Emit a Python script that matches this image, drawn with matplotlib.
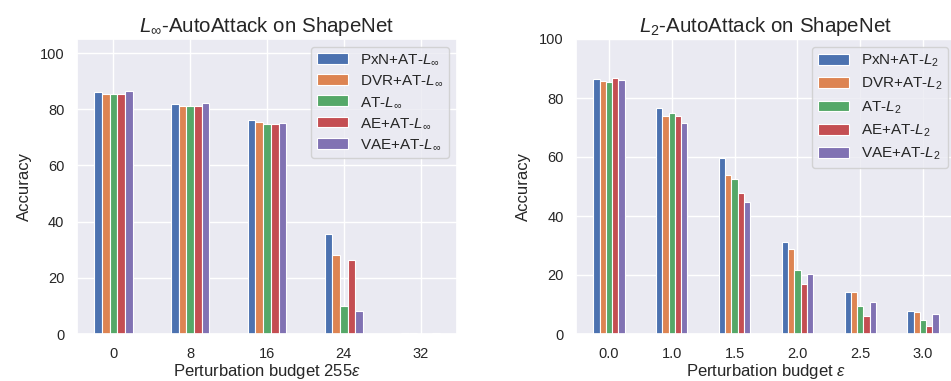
import numpy as np
import matplotlib
matplotlib.use("Agg")
import matplotlib.pyplot as plt
import seaborn as sns

sns.set_theme(style="darkgrid")
plt.rcParams['font.family'] = ['Liberation Sans', 'DejaVu Sans']
plt.rcParams['mathtext.fontset'] = 'custom'
plt.rcParams['mathtext.rm'] = 'Liberation Sans'
plt.rcParams['mathtext.it'] = 'Liberation Sans:italic'
plt.rcParams['mathtext.bf'] = 'Liberation Sans:bold'

series_inf = ["PxN+AT-$L_\\infty$", "DVR+AT-$L_\\infty$", "AT-$L_\\infty$",
              "AE+AT-$L_\\infty$", "VAE+AT-$L_\\infty$"]
series_l2 = ["PxN+AT-$L_2$", "DVR+AT-$L_2$", "AT-$L_2$",
             "AE+AT-$L_2$", "VAE+AT-$L_2$"]

cats_inf = ["0", "8", "16", "24", "32"]
pxn_inf = [86.0, 81.8, 76.1, 35.7, 0.4]
dvr_inf = [85.3, 81.1, 75.4, 28.1, 0.2]
at_inf = [85.3, 81.0, 74.6, 9.8, 0.1]
ae_inf = [85.6, 81.3, 74.9, 26.2, 0.1]
vae_inf = [86.6, 82.2, 75.2, 8.2, 0.3]

cats_l2 = ["0.0", "1.0", "1.5", "2.0", "2.5", "3.0"]
pxn_l2 = [86.5, 76.7, 59.5, 31.3, 14.4, 7.8]
dvr_l2 = [85.8, 73.8, 53.9, 28.7, 14.2, 7.4]
at_l2 = [85.4, 74.9, 52.6, 21.6, 9.5, 4.6]
ae_l2 = [86.9, 74.0, 47.7, 17.0, 6.2, 2.6]
vae_l2 = [86.0, 71.6, 44.8, 20.3, 10.8, 6.8]

colors = ["#4C72B0", "#DD8452", "#55A868", "#C44E52", "#8172B3"]

W, H = 951, 381
fig = plt.figure(figsize=(W / 100, H / 100), dpi=100)
ax1 = fig.add_axes([77 / W, (H - 334) / H, 380 / W, 295 / H])
ax2 = fig.add_axes([576 / W, (H - 334) / H, 380 / W, 295 / H])

def draw(ax, cats, data, labels, title, xlabel, ylim):
    x = np.arange(len(cats))
    width = 0.1
    for i, (vals, lab) in enumerate(zip(data, labels)):
        ax.bar(x + (i - 2) * width, vals, width, label=lab, color=colors[i],
               edgecolor="white", linewidth=0.8)
    ax.set_xticks(x)
    ax.set_xticklabels(cats)
    ax.set_ylim(*ylim)
    ax.set_title(title, fontsize=14.8, pad=5)
    ax.set_xlabel(xlabel, fontsize=12, labelpad=1)
    ax.set_ylabel("Accuracy", fontsize=12, labelpad=6)
    ax.tick_params(axis='both', labelsize=10.5, pad=9, length=0)
    ax.legend(loc="upper right", fontsize=11, handlelength=2.0,
              borderaxespad=0.5, labelspacing=0.45)

draw(ax1, cats_inf, [pxn_inf, dvr_inf, at_inf, ae_inf, vae_inf], series_inf,
     "$L_\\infty$-AutoAttack on ShapeNet", "Perturbation budget 255$\\varepsilon$", (0, 105))
draw(ax2, cats_l2, [pxn_l2, dvr_l2, at_l2, ae_l2, vae_l2], series_l2,
     "$L_2$-AutoAttack on ShapeNet", "Perturbation budget $\\varepsilon$", (0, 100))

fig.savefig("out.png", dpi=100)
